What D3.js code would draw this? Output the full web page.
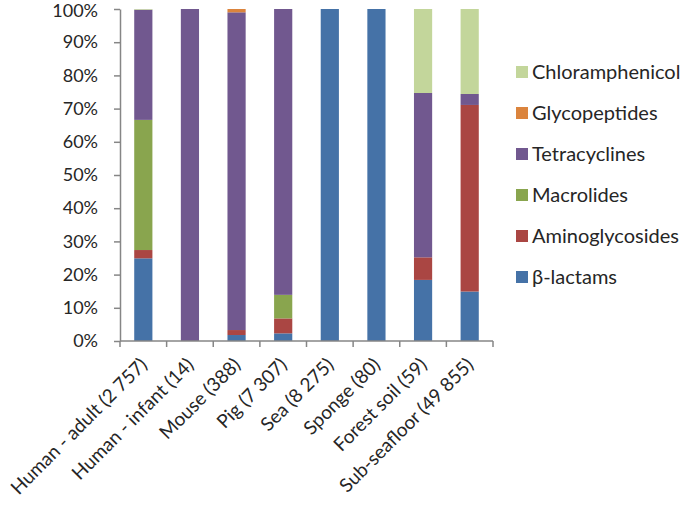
<!DOCTYPE html>
<html><head><meta charset="utf-8">
<script src="https://cdn.jsdelivr.net/npm/d3@7"></script>
<style>body{margin:0;background:#fff}text{font-family:Lato,"Open Sans",sans-serif;fill:#262626}</style>
</head><body><svg id="c" width="685" height="510"></svg>
<script>
const categories = ["Human - adult (2 757)","Human - infant (14)","Mouse (388)","Pig (7 307)","Sea (8 275)","Sponge (80)","Forest soil (59)","Sub-seafloor (49 855)"];
const seriesNames = ["β-lactams","Aminoglycosides","Macrolides","Tetracyclines","Glycopeptides","Chloramphenicol"];
const betaLactams      = [24.9, 0, 1.8, 2.3, 100, 100, 18.4, 14.9];
const aminoglycosides  = [2.5, 0, 1.5, 4.5, 0, 0, 6.8, 56.2];
const macrolides       = [39.2, 0, 0, 7.1, 0, 0, 0, 0];
const tetracyclines    = [33.2, 100, 95.7, 86.1, 0, 0, 49.5, 3.3];
const glycopeptides    = [0, 0, 1.0, 0, 0, 0, 0, 0];
const chloramphenicol  = [0.2, 0, 0, 0, 0, 0, 25.3, 25.6];
const yTicks = [0,10,20,30,40,50,60,70,80,90,100];
const colors = ["#4572A7","#AA4643","#89A54E","#71588F","#DB843D","#C3D69B"];

const seriesValues = [betaLactams, aminoglycosides, macrolides, tetracyclines, glycopeptides, chloramphenicol];
const rows = categories.map((c,i)=>{const o={cat:c}; seriesNames.forEach((s,j)=>o[s]=seriesValues[j][i]); return o;});
const stack = d3.stack().keys(seriesNames)(rows);

const svg = d3.select("#c");
const m = {l:120, r:192, t:9, b:169};
const W = 685-m.l-m.r, H = 510-m.t-m.b;
const g = svg.append("g").attr("transform",`translate(${m.l},${m.t})`);
const x = d3.scaleBand().domain(categories).range([0,W]).paddingInner(0.61).paddingOuter(0.305);
const xb = d3.scaleBand().domain(categories).range([0,W]);
const y = d3.scaleLinear().domain([0,100]).range([H,0]);

g.selectAll("g.s").data(stack).join("g").attr("fill",(d,i)=>colors[i])
 .selectAll("rect").data(d=>d).join("rect")
 .attr("x",d=>x(d.data.cat)).attr("width",x.bandwidth())
 .attr("y",d=>y(d[1])).attr("height",d=>Math.max(0,y(d[0])-y(d[1])));

const axCol="#868686";
const ya = g.append("g").call(d3.axisLeft(y).tickValues(yTicks).tickFormat(d=>d+"%").tickSize(6).tickSizeOuter(0).tickPadding(16));
ya.select(".domain").attr("stroke",axCol).attr("stroke-width",1.5);
ya.selectAll(".tick line").attr("stroke",axCol).attr("stroke-width",1.5);
ya.selectAll("text").attr("font-size",18).style("font-family","Lato,sans-serif").attr("fill","#262626");
ya.selectAll(".tick").filter(d=>d===100).select("text").attr("dy","0.4em");

const xa = g.append("g").attr("transform",`translate(0,${H})`);
xa.append("line").attr("x1",0).attr("x2",W).attr("stroke",axCol).attr("stroke-width",1.5);
xa.selectAll("line.t").data(categories.concat(["_end"])).join("line").attr("class","t")
  .attr("x1",(d,i)=>i*xb.step()).attr("x2",(d,i)=>i*xb.step()).attr("y1",0).attr("y2",6)
  .attr("stroke",axCol).attr("stroke-width",1.5);
xa.selectAll("text").data(categories).join("text")
  .attr("transform",d=>`translate(${xb(d)+xb.bandwidth()/2+5},${25}) rotate(-45)`)
  .attr("text-anchor","end").attr("font-size",19).text(d=>d);

const lg = svg.append("g").attr("transform","translate(516,0)");
const legOrder = seriesNames.map((s,i)=>({s,c:colors[i]})).reverse();
const ly = d3.scaleLinear().domain([0,5]).range([72,277]);
legOrder.forEach((d,i)=>{
  lg.append("rect").attr("x",0).attr("y",ly(i)-6).attr("width",12).attr("height",12).attr("fill",d.c);
  lg.append("text").attr("x",16).attr("y",ly(i)+7).attr("font-size",20).text(d.s);
});
</script></body></html>
